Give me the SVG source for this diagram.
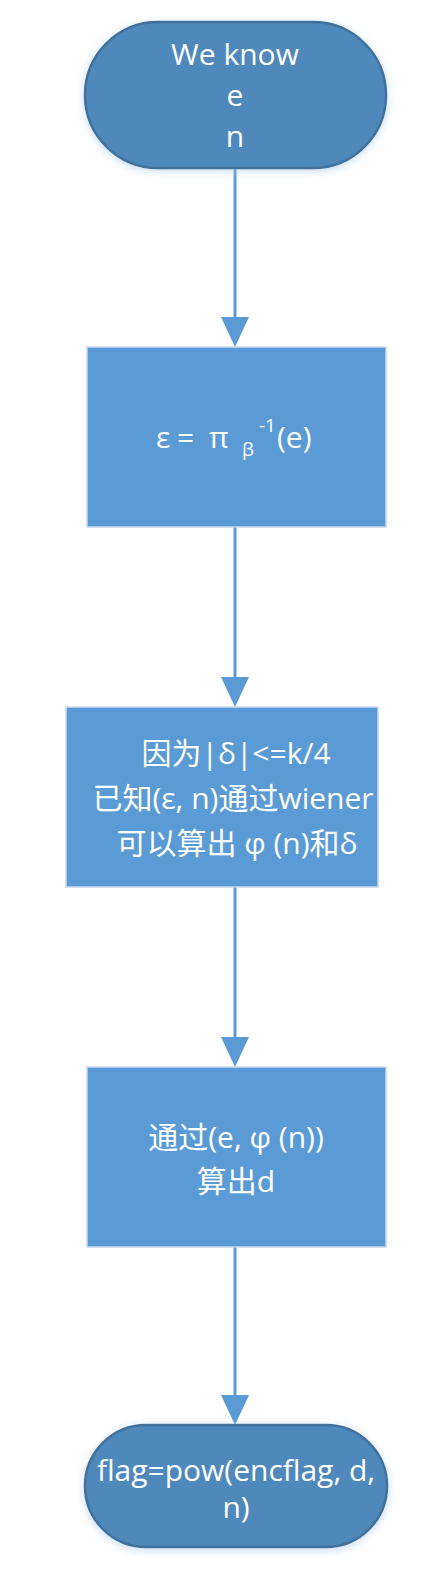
<svg xmlns="http://www.w3.org/2000/svg" width="440" height="1571" viewBox="0 0 440 1571">
<defs>
<style>
.term{fill:#4F88BB;stroke:#41719C;stroke-width:2.5}
.proc{fill:#5B9BD5;stroke:#C9D9EE;stroke-width:1.5}
.t{font-family:"Open Sans","Noto Sans CJK SC",sans-serif;fill:#fff;text-anchor:middle}
.s{text-anchor:start}
.conn{stroke:#5B9BD5;stroke-width:3;fill:none}
.head{fill:#5B9BD5}
</style>
<filter id="glow" x="-10%" y="-20%" width="120%" height="140%">
<feGaussianBlur in="SourceAlpha" stdDeviation="4"/>
<feOffset dy="2" result="b"/>
<feFlood flood-color="#9DC3E6" flood-opacity="0.6"/>
<feComposite in2="b" operator="in"/>
<feMerge><feMergeNode/><feMergeNode in="SourceGraphic"/></feMerge>
</filter>
</defs>
<rect width="440" height="1571" fill="#fff"/>
<g id="connectors">
<line class="conn" x1="235" y1="168" x2="235" y2="320"/>
<polygon class="head" points="221,317 249,317 235,347"/>
<line class="conn" x1="235" y1="527" x2="235" y2="680"/>
<polygon class="head" points="221,677 249,677 235,707"/>
<line class="conn" x1="235" y1="887" x2="235" y2="1040"/>
<polygon class="head" points="221,1037 249,1037 235,1067"/>
<line class="conn" x1="235" y1="1247" x2="235" y2="1398"/>
<polygon class="head" points="221,1395 249,1395 235,1425"/>
</g>
<g id="n1">
<rect class="term" x="85" y="22" width="301" height="146" rx="73" ry="73" filter="url(#glow)"/>
<text class="t" font-size="30" x="235" y="65">We know</text>
<text class="t" font-size="30" x="235" y="106">e</text>
<text class="t" font-size="30" x="235" y="147">n</text>
</g>
<g id="n2">
<rect class="proc" x="87" y="347" width="299" height="180"/>
<text class="t s" font-size="30" x="156" y="448">ε</text>
<text class="t s" font-size="30" x="177" y="448">=</text>
<text class="t s" font-size="30" x="209" y="448">π</text>
<text class="t s" font-size="19" x="242" y="456">β</text>
<text class="t s" font-size="19" x="259" y="432">-1</text>
<text class="t s" font-size="30" x="277" y="448">(e)</text>
</g>
<g id="n3">
<rect class="proc" x="66" y="707" width="312" height="180"/>
<text class="t" font-size="30" x="236" y="764">因为|δ|&lt;=k/4</text>
<text class="t" font-size="30" x="233" y="809">已知(ε, n)通过wiener</text>
<text class="t" font-size="30" x="237" y="854">可以算出 φ (n)和δ</text>
</g>
<g id="n4">
<rect class="proc" x="87" y="1067" width="299" height="180"/>
<text class="t" font-size="30" x="236" y="1148">通过(e, φ (n))</text>
<text class="t" font-size="30" x="236" y="1192">算出d</text>
</g>
<g id="n5">
<rect class="term" x="85" y="1425" width="302" height="122" rx="61" ry="61" filter="url(#glow)"/>
<text class="t" font-size="30" x="236" y="1481">flag=pow(encflag, d,</text>
<text class="t" font-size="30" x="236" y="1518">n)</text>
</g>
</svg>
